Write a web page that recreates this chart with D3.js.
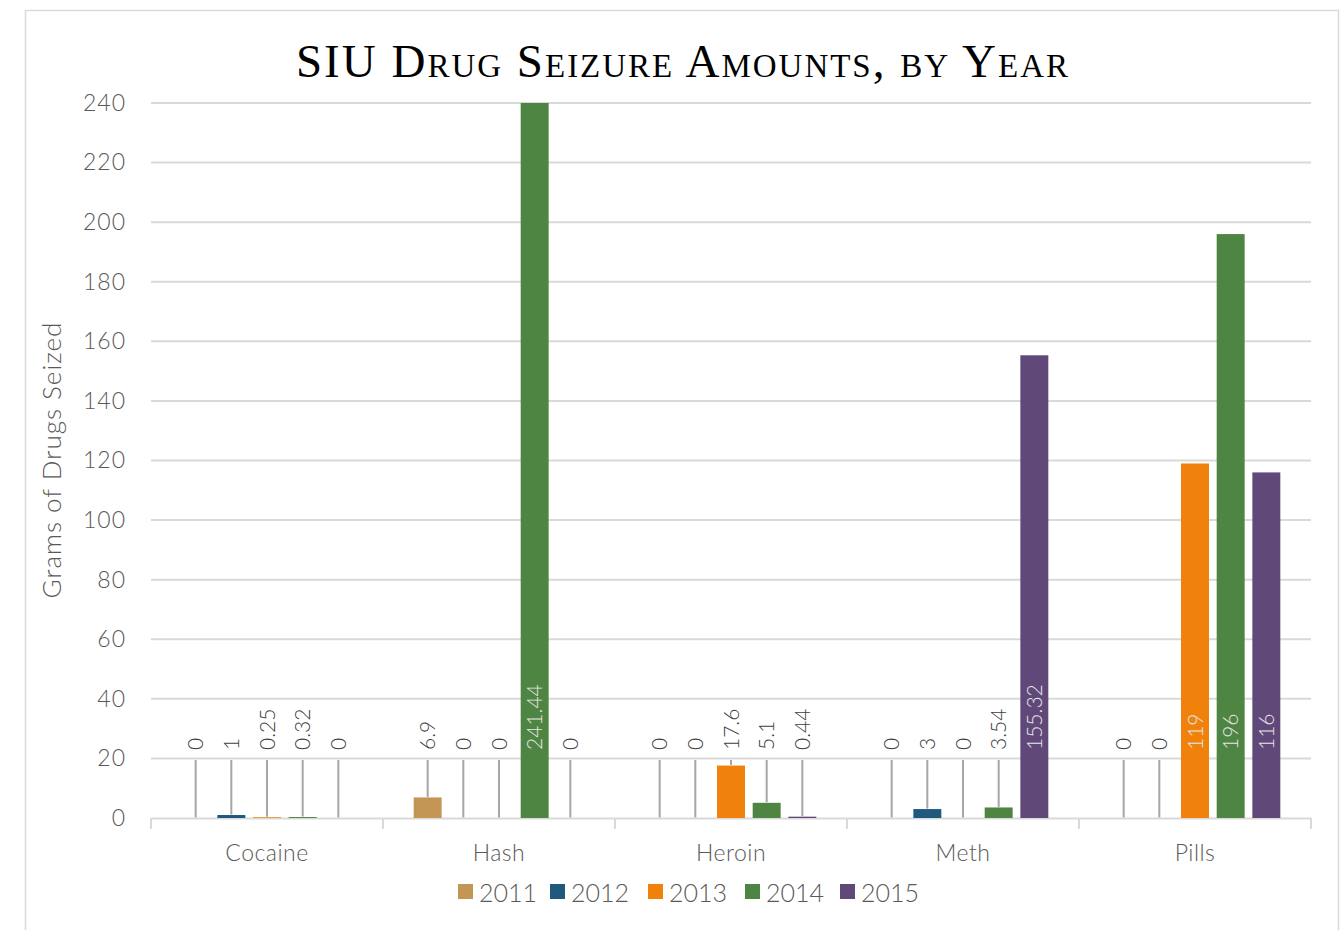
<!DOCTYPE html>
<html>
<head>
<meta charset="utf-8">
<script src="https://cdn.jsdelivr.net/npm/d3@7"></script>
<style>
  body { margin: 0; background: #fff; }
  svg text { font-family: Lato, "Noto Sans", sans-serif; }
</style>
</head>
<body>
<svg id="canvas" width="1343" height="930"></svg>
<script>
let drugs = ['Cocaine', 'Hash', 'Heroin', 'Meth', 'Pills']
let years = ['2011', '2012', '2013', '2014', '2015']
let colors = ['#c39655', '#1f5a7e', '#f0820c', '#4e8542', '#604878']

// grams seized, one array per year, in drug order
let y2011 = [0, 6.9, 0, 0, 0]
let y2012 = [1, 0, 0, 3, 0]
let y2013 = [0.25, 0, 17.6, 0, 119]
let y2014 = [0.32, 241.44, 5.1, 3.54, 196]
let y2015 = [0, 0, 0.44, 155.32, 116]
let series = [y2011, y2012, y2013, y2014, y2015]

let yTicks = [0, 20, 40, 60, 80, 100, 120, 140, 160, 180, 200, 220, 240]

let canvas = d3.select('#canvas')

let plotLeft = 151, plotRight = 1311, plotTop = 103, plotBottom = 818

let x = d3.scaleBand().domain(drugs).range([plotLeft, plotRight])
let xInner = d3.scaleBand().domain(years).range([0, x.bandwidth()])
  .paddingInner(0.216).paddingOuter(0.86)
let y = d3.scaleLinear().domain([0, 240]).range([plotBottom, plotTop]).clamp(true)

// frame
canvas.append('rect')
  .attr('x', 25.5).attr('y', 10.5).attr('width', 1313).attr('height', 940)
  .attr('fill', 'none').attr('stroke', '#d9d9d9').attr('stroke-width', 1.5)

// title
canvas.append('text')
  .attr('x', 683).attr('y', 77)
  .attr('text-anchor', 'middle')
  .style('font-family', '"Liberation Serif", "DejaVu Serif", serif')
  .style('font-variant', 'small-caps')
  .style('font-size', '47px')
  .style('letter-spacing', '2px')
  .attr('fill', '#000')
  .text('SIU Drug Seizure Amounts, by Year')

// gridlines
canvas.append('g')
  .selectAll('line')
  .data(yTicks.filter(d => d > 0))
  .enter()
  .append('line')
  .attr('x1', plotLeft).attr('x2', plotRight)
  .attr('y1', d => y(d)).attr('y2', d => y(d))
  .attr('stroke', '#d9d9d9').attr('stroke-width', 2)

// y axis
let yAxis = canvas.append('g')
  .attr('transform', 'translate(' + plotLeft + ',0)')
  .call(d3.axisLeft(y).tickValues(yTicks).tickSize(0).tickPadding(25))
yAxis.select('.domain').remove()
yAxis.selectAll('text')
  .style('font-size', '23px').style('font-weight', 300)
  .style('letter-spacing', '1px')
  .attr('fill', '#595959')

// x axis
let xAxis = canvas.append('g')
  .attr('transform', 'translate(0,' + plotBottom + ')')
  .call(d3.axisBottom(x).tickSize(0).tickPadding(27))
xAxis.select('.domain').attr('stroke', '#d9d9d9').attr('stroke-width', 2)
xAxis.selectAll('text')
  .style('font-size', '23px').style('font-weight', 300)
  .style('letter-spacing', '0.5px')
  .attr('fill', '#595959')

canvas.append('g')
  .selectAll('line')
  .data(drugs.concat(['end']))
  .enter()
  .append('line')
  .attr('x1', d => d === 'end' ? plotRight : x(d))
  .attr('x2', d => d === 'end' ? plotRight : x(d))
  .attr('y1', plotBottom).attr('y2', plotBottom + 11)
  .attr('stroke', '#d9d9d9').attr('stroke-width', 2)

// bars
let cells = []
series.forEach((vals, i) => {
  vals.forEach((v, j) => {
    cells.push({ drug: drugs[j], year: years[i], color: colors[i], value: v })
  })
})

let cx = d => x(d.drug) + xInner(d.year) + xInner.bandwidth() / 2
let labelStart = 750

let bars = canvas.append('g')
bars.selectAll('rect')
  .data(cells)
  .enter()
  .append('rect')
  .attr('x', d => x(d.drug) + xInner(d.year))
  .attr('width', xInner.bandwidth())
  .attr('y', d => y(d.value))
  .attr('height', d => plotBottom - y(d.value))
  .attr('fill', d => d.color)

// leader lines for labels sitting above short bars
canvas.append('g')
  .selectAll('line')
  .data(cells.filter(d => y(d.value) > labelStart + 10))
  .enter()
  .append('line')
  .attr('x1', d => cx(d)).attr('x2', d => cx(d))
  .attr('y1', labelStart + 10)
  .attr('y2', d => y(d.value) - 0.5)
  .attr('stroke', '#a6a6a6').attr('stroke-width', 2)

// value labels
canvas.append('g')
  .selectAll('text')
  .data(cells)
  .enter()
  .append('text')
  .attr('transform', d => 'translate(' + (cx(d) + 7.5) + ',' + labelStart + ') rotate(-90)')
  .style('font-size', '21px').style('font-weight', 300)
  .attr('fill', d => y(d.value) < labelStart - 30 ? '#e6e6e6' : '#404040')
  .text(d => d.value)

// y axis title
canvas.append('text')
  .attr('transform', 'translate(61,460) rotate(-90)')
  .attr('text-anchor', 'middle')
  .style('font-size', '26px').style('font-weight', 300)
  .style('letter-spacing', '1px')
  .attr('fill', '#595959')
  .text('Grams of Drugs Seized')

// legend
let legendX = [458, 550, 648, 745, 840]
let legend = canvas.append('g')
  .selectAll('g')
  .data(years)
  .enter()
  .append('g')
  .attr('transform', (d, i) => 'translate(' + legendX[i] + ',884)')
legend.append('rect')
  .attr('width', 15).attr('height', 15)
  .attr('fill', (d, i) => colors[i])
legend.append('text')
  .attr('x', 21).attr('y', 18)
  .style('font-size', '25px').style('font-weight', 300)
  .attr('fill', '#595959')
  .text(d => d)
</script>
</body>
</html>
